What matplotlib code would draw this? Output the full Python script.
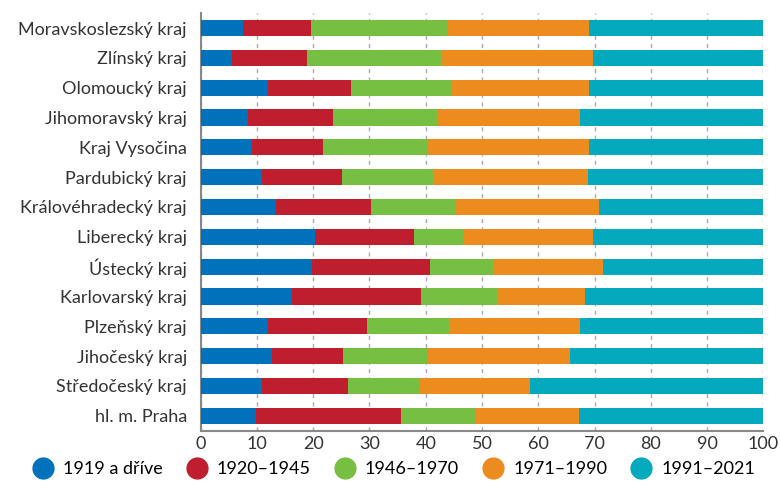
import matplotlib.pyplot as plt
import numpy as np
from matplotlib.lines import Line2D

# regions, top to bottom as in the chart
regions = [
    "Moravskoslezský kraj", "Zlínský kraj", "Olomoucký kraj",
    "Jihomoravský kraj", "Kraj Vysočina", "Pardubický kraj",
    "Královéhradecký kraj", "Liberecký kraj", "Ústecký kraj",
    "Karlovarský kraj", "Plzeňský kraj", "Jihočeský kraj",
    "Středočeský kraj", "hl. m. Praha",
]
periods = ["1919 a dříve", "1920–1945", "1946–1970", "1971–1990", "1991–2021"]

# share of dwellings (%) by construction period
p1919 = [7.6, 5.6, 12.0, 8.4, 9.2, 10.9, 13.4, 20.3, 19.8, 16.2, 12.0, 12.7, 10.9, 9.8]
p1945 = [12.0, 13.3, 14.7, 15.1, 12.5, 14.2, 16.8, 17.6, 20.9, 22.9, 17.5, 12.6, 15.3, 25.8]
p1970 = [24.4, 23.8, 17.8, 18.5, 18.5, 16.3, 15.0, 8.9, 11.2, 13.5, 14.9, 15.1, 12.8, 13.1]
p1990 = [25.1, 27.0, 24.6, 25.4, 28.9, 27.4, 25.6, 22.9, 19.6, 15.7, 23.0, 25.2, 19.5, 18.5]
p2021 = [30.9, 30.3, 30.9, 32.6, 30.9, 31.2, 29.2, 30.3, 28.5, 31.7, 32.6, 34.4, 41.5, 32.8]

colors = ["#0072BC", "#BE1E2D", "#77BF43", "#EC8C1E", "#04A9BD"]

plt.rcParams["font.family"] = ["Lato", "DejaVu Sans"]

fig = plt.figure(figsize=(7.8, 4.86), dpi=100)
ax = fig.add_axes([0.2573, 0.1138, 0.7213, 0.8592])

y = np.arange(len(regions))
left = np.zeros(len(regions))
for vals, col in zip([p1919, p1945, p1970, p1990, p2021], colors):
    ax.barh(y, vals, left=left, height=0.54, color=col, zorder=3)
    left += np.array(vals)

ax.set_xlim(0, 100)
ax.set_ylim(len(regions) - 0.5, -0.5)
ax.set_xticks(np.arange(0, 101, 10))
ax.set_yticks(y)
ax.set_yticklabels(regions)
ax.tick_params(axis="both", length=0, labelsize=13, colors="#333333")
ax.tick_params(axis="y", pad=10)
ax.tick_params(axis="x", pad=4)
ax.grid(axis="x", color="#AAAAAA", linestyle=(0, (3, 3)), linewidth=1, zorder=0)
for s in ["top", "right"]:
    ax.spines[s].set_visible(False)
for s in ["left", "bottom"]:
    ax.spines[s].set_color("#888888")
    ax.spines[s].set_linewidth(1.5)

handles = [Line2D([], [], marker="o", linestyle="", markersize=15,
                  markerfacecolor=c, markeredgecolor=c) for c in colors]
fig.legend(handles, periods, loc="lower center", ncol=5, frameon=False,
           bbox_to_anchor=(0.5, -0.015), fontsize=13, handletextpad=0.1,
           columnspacing=0.9)

fig.savefig("out.png", dpi=100)
